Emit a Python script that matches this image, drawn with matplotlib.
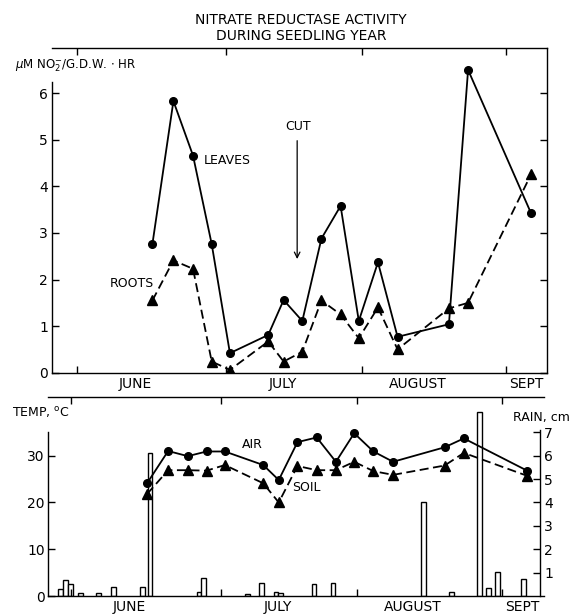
import matplotlib
matplotlib.use("Agg")
import matplotlib.pyplot as plt
import numpy as np

plt.rcParams['font.family'] = ['DejaVu Sans']
plt.rcParams['mathtext.fontset'] = 'dejavusans'

# days counted from June 1
sample_day = [16.2, 20.7, 24.9, 28.9, 32.8, 41.0, 44.3, 48.3, 52.4, 56.5,
              60.4, 64.5, 68.7, 79.7, 83.8, 97.3]
leaves = [2.76, 5.83, 4.66, 2.76, 0.42, 0.81, 1.56, 1.11, 2.88, 3.58,
          1.11, 2.37, 0.77, 1.04, 6.50, 3.42]
roots = [1.55, 2.41, 2.23, 0.24, 0.06, 0.67, 0.24, 0.45, 1.55, 1.25,
         0.74, 1.40, 0.50, 1.38, 1.50, 4.26]
air = [24.1, 31.0, 29.9, 30.9, 30.9, 28.0, 24.8, 32.9, 33.9, 28.7,
       34.8, 30.9, 28.7, 31.8, 33.7, 26.8]
soil = [21.8, 26.9, 26.9, 26.8, 28.0, 24.1, 20.0, 27.8, 26.9, 26.9,
        28.7, 26.7, 25.9, 27.9, 30.6, 25.7]

rain_day = [-2.2, -1.15, -0.15, 2.05, 5.9, 9.1, 15.2, 16.8, 27.3, 28.3,
            37.7, 40.6, 43.7, 44.7, 51.8, 55.9, 75.2, 81.2, 87.1, 89.1,
            91.0, 96.5]
rain_cm = [0.29, 0.69, 0.53, 0.14, 0.11, 0.39, 0.39, 6.1, 0.19, 0.76,
           0.07, 0.57, 0.19, 0.14, 0.5, 0.57, 4.0, 0.19, 7.86, 0.33,
           1.03, 0.74]

month_edges = [0, 32, 61, 92]
month_mid = [12.5, 44.2, 73.0, 96.2]
month_names = ['JUNE', 'JULY', 'AUGUST', 'SEPT']

W, H = 588, 614
fig = plt.figure(figsize=(W / 100, H / 100), dpi=100)


def box(l, t, r, b):
    return [l / W, 1 - b / H, (r - l) / W, (b - t) / H]


def month_axis(ax):
    ax.set_xticks(month_edges)
    ax.set_xticklabels([])
    ax.set_xticks(month_mid, minor=True)
    ax.set_xticklabels(month_names, minor=True, fontsize=10)
    ax.tick_params(axis='x', which='major', direction='in', length=5,
                   width=1, top=True)
    ax.tick_params(axis='x', which='minor', length=0, pad=3)


lw = 1.3

# ---- upper panel: nitrate reductase
ax1 = fig.add_axes(box(52, 48, 547, 372.7))
ax1.plot(sample_day, leaves, '-o', color='black', lw=lw, ms=5.5)
ax1.plot(sample_day, roots, '--^', color='black', lw=lw, ms=6.5,
         dashes=(5, 2.5))
ax1.set_xlim(-5.3, 100.7)
ax1.set_ylim(0, 6.97)
month_axis(ax1)
ax1.set_yticks(range(0, 7))
ax1.tick_params(axis='y', direction='in', length=5, width=1, right=True,
                labelsize=10, pad=3)
ax1.spines['left'].set_bounds(0, 6.25)
for s in ax1.spines.values():
    s.set_linewidth(1)

ax1.text(27.2, 4.55, 'LEAVES', fontsize=9, va='center')
ax1.text(7.1, 1.92, 'ROOTS', fontsize=9, va='center')
ax1.text(47.4, 5.28, 'CUT', fontsize=9, ha='center', va='center')
ax1.annotate('', xy=(47.2, 2.38), xytext=(47.2, 5.04),
             arrowprops=dict(arrowstyle='->', lw=0.9, color='black'))

fig.text(15 / W, 1 - 66 / H, r'$\mu$M NO$_2^{-}$/G.D.W. $\cdot$ HR',
         fontsize=8.5, va='center')
fig.text(301 / W, 1 - 20.5 / H, 'NITRATE REDUCTASE ACTIVITY',
         fontsize=10, ha='center', va='center')
fig.text(301 / W, 1 - 35.5 / H, 'DURING SEEDLING YEAR',
         fontsize=10, ha='center', va='center')

# ---- lower panel: temperature and rain
ax2 = fig.add_axes(box(47.7, 397, 544, 596))
ax3 = ax2.twinx()
ax3.set_zorder(ax2.get_zorder() - 1)
ax2.patch.set_visible(False)

ax3.bar(rain_day, rain_cm, width=1.0, color='white', edgecolor='black',
        lw=1)
ax2.plot(sample_day, air, '-o', color='black', lw=lw, ms=5.5)
ax2.plot(sample_day, soil, '--^', color='black', lw=lw, ms=6.5,
         dashes=(5, 2.5))

ax2.set_xlim(-5.0, 100.9)
ax2.set_ylim(0, 42.55)
ax3.set_ylim(0, 8.51)
month_axis(ax2)
ax2.set_yticks([0, 10, 20, 30])
ax2.tick_params(axis='y', direction='in', length=5, width=1,
                labelsize=10, pad=2)
ax2.spines['left'].set_bounds(0, 35)
ax2.spines['right'].set_visible(False)

ax3.set_yticks(range(1, 8))
ax3.tick_params(axis='y', direction='in', length=5, width=1,
                labelsize=10, pad=3)
for side in ['top', 'left', 'bottom']:
    ax3.spines[side].set_visible(False)
ax3.spines['right'].set_position(('data', 100.0))
ax3.spines['right'].set_bounds(0, 7.1)
for s in list(ax2.spines.values()) + list(ax3.spines.values()):
    s.set_linewidth(1)

ax2.text(38.6, 32.3, 'AIR', fontsize=9, ha='center', va='center')
ax2.text(50.3, 23.1, 'SOIL', fontsize=9, ha='center', va='center')

fig.text(12 / W, 1 - 413 / H, r'TEMP, $^{\mathrm{o}}$C', fontsize=9,
         va='center')
fig.text(513 / W, 1 - 418 / H, 'RAIN, cm', fontsize=9, va='center')

fig.savefig('out.png', dpi=100)
